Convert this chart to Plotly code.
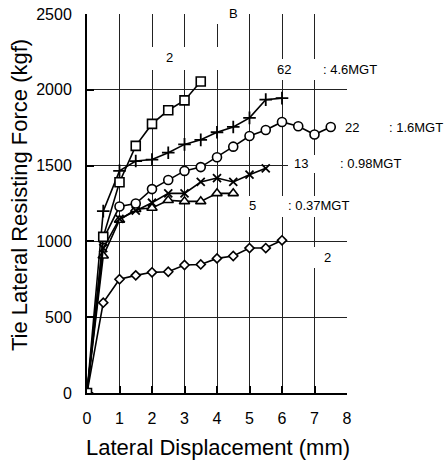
import plotly.graph_objects as go

# ---- data ----
disp_sq = [0, 0.5, 1, 1.5, 2, 2.5, 3, 3.5]
force_sq = [0, 1030, 1390, 1630, 1775, 1865, 1930, 2055]

disp_plus = [0, 0.5, 1, 1.5, 2, 2.5, 3, 3.5, 4, 4.5, 5, 5.5, 6]
force_plus = [0, 1200, 1465, 1530, 1540, 1585, 1640, 1670, 1720, 1755, 1815, 1935, 1945]

disp_circ = [0, 0.5, 1, 1.5, 2, 2.5, 3, 3.5, 4, 4.5, 5, 5.5, 6, 6.5, 7, 7.5]
force_circ = [0, 1015, 1230, 1250, 1345, 1405, 1465, 1490, 1555, 1625, 1695, 1735, 1788, 1760, 1705, 1755]

disp_ast = [0, 0.5, 1, 1.5, 2, 2.5, 3, 3.5, 4, 4.5, 5, 5.5]
force_ast = [0, 955, 1148, 1203, 1255, 1317, 1317, 1392, 1418, 1392, 1440, 1482]

disp_tri = [0, 0.5, 1, 1.5, 2, 2.5, 3, 3.5, 4, 4.5]
force_tri = [0, 905, 1141, 1212, 1220, 1271, 1264, 1264, 1317, 1317]

disp_dia = [0, 0.5, 1, 1.5, 2, 2.5, 3, 3.5, 4, 4.5, 5, 5.5, 6]
force_dia = [0, 596, 750, 776, 796, 800, 844, 848, 888, 904, 956, 956, 1007]

x_ticks = [0, 1, 2, 3, 4, 5, 6, 7, 8]
y_ticks = [0, 500, 1000, 1500, 2000, 2500]

x_title = "Lateral Displacement (mm)"
y_title = "Tie Lateral Resisting Force (kgf)"

# label texts
label_texts = ["B", "2", "62", ": 4.6MGT", "22", ": 1.6MGT", "13", ": 0.98MGT", "5", ": 0.37MGT", "2"]

# ---- layout helpers (pixel -> paper) ----
L, R, T, B = 87, 347, 14, 393
W, H = R - L, B - T


def px(xp):
    return (xp - L) / W


def py(yp):
    return (B - yp) / H


FONT = "Liberation Sans, Arial, sans-serif"

fig = go.Figure()

series = [
    (disp_dia, force_dia, "diamond", 7),
    (disp_tri, force_tri, "triangle-up", 9),
    (disp_ast, force_ast, "x-thin", 8),
    (disp_circ, force_circ, "circle", 9),
    (disp_plus, force_plus, "cross-thin", 9),
    (disp_sq, force_sq, "square", 9),
]
for xs, ys, sym, size in series:
    thin = sym.endswith("thin")
    fig.add_trace(go.Scatter(
        x=xs, y=ys, mode="lines+markers",
        line=dict(color="black", width=1.6),
        marker=dict(symbol=sym, size=size, color="white" if not thin else "black",
                    line=dict(color="black", width=1.8 if thin else 1.6)),
        showlegend=False, hoverinfo="skip",
    ))

# white label boxes (pixel rectangles)
boxes = [
    (192, 5, 245, 24),
    (145, 47, 222, 70),
    (266, 59, 380, 80),
    (288, 155, 404, 173),
    (240, 196, 352, 217),
    (313, 247, 349, 268),
]
for x0, y0, x1, y1 in boxes:
    fig.add_shape(type="rect", xref="paper", yref="paper",
                  x0=px(x0), x1=px(x1), y0=py(y1), y1=py(y0),
                  fillcolor="white", line=dict(width=0), layer="above")

label_pos = [
    (233, 13), (169, 58), (284, 69), (350, 69), (352, 127), (416, 127),
    (301, 163), (370, 163), (252, 205), (318, 205), (327, 257),
]
for txt, (xx, yy) in zip(label_texts, label_pos):
    fig.add_annotation(text=txt, xref="paper", yref="paper", x=px(xx), y=py(yy),
                       showarrow=False, xanchor="center", yanchor="middle",
                       font=dict(family=FONT, size=13, color="black"))

# axis titles as annotations (precise placement)
fig.add_annotation(text=x_title, xref="paper", yref="paper", x=px(218), y=py(447),
                   showarrow=False, xanchor="center", yanchor="middle",
                   font=dict(family=FONT, size=22, color="black"))
fig.add_annotation(text=y_title, xref="paper", yref="paper", x=px(20), y=py(195),
                   showarrow=False, xanchor="center", yanchor="middle", textangle=-90,
                   font=dict(family=FONT, size=22, color="black"))

fig.update_xaxes(
    range=[0, 8], tickvals=x_ticks, ticktext=[str(v) for v in x_ticks],
    showgrid=True, gridcolor="#222", gridwidth=1,
    showline=True, linecolor="black", linewidth=2, zeroline=False,
    ticks="inside", ticklen=7, tickwidth=1.5, tickcolor="black",
    ticklabelstandoff=10, automargin=False,
    tickfont=dict(family=FONT, size=16, color="black"),
)
fig.update_yaxes(
    range=[0, 2500], tickvals=y_ticks, ticktext=[str(v) for v in y_ticks],
    showgrid=True, gridcolor="#222", gridwidth=1,
    showline=True, linecolor="black", linewidth=2, zeroline=False,
    ticks="inside", ticklen=7, tickwidth=2, tickcolor="black",
    ticklabelstandoff=10, automargin=False,
    tickfont=dict(family=FONT, size=16, color="black"),
)

fig.update_layout(
    width=445, height=461,
    margin=dict(l=L, r=445 - R, t=T, b=461 - B, autoexpand=False),
    paper_bgcolor="white", plot_bgcolor="white",
    font=dict(family=FONT, color="black"),
)

fig.write_html("out.html", config={"displayModeBar": False},
               post_script="document.body.style.margin='0px';")
